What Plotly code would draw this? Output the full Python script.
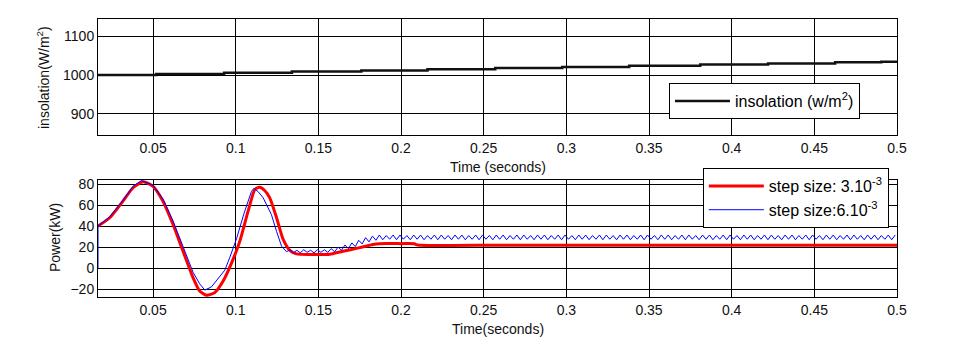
import numpy as np
import plotly.graph_objects as go

# ---- Insolation profile (staircase) ----
insol_t = [0.0167, 0.052, 0.093, 0.134, 0.176, 0.216, 0.257, 0.2975,
           0.338, 0.381, 0.422, 0.4626, 0.4905, 0.5]
insol_v = [1000, 1003, 1006, 1009, 1012, 1015, 1018, 1021,
           1024, 1027, 1030, 1033, 1034, 1034]

# ---- PV power, step size 3e-3 ----
red_t = [0.0167, 0.0238, 0.0318, 0.0379, 0.0440, 0.0500, 0.0560, 0.0621,
         0.0681, 0.0742, 0.0782, 0.0823, 0.0873, 0.0924, 0.0984, 0.1025,
         0.1075, 0.1116, 0.1145, 0.1175, 0.1206, 0.1247, 0.1287, 0.1327,
         0.1368, 0.1450, 0.1569, 0.1650, 0.1750, 0.1830, 0.1870, 0.2000,
         0.2080, 0.2100, 0.2600, 0.3500, 0.5000]
red_p = [40, 48, 63.8, 76.6, 82.3, 78, 63.8, 41.6,
         16.2, -9.2, -21.9, -26, -23.4, -12.4, 8.3, 25.7,
         54.3, 75, 77, 74, 67, 48, 27.3, 16.9,
         13.5, 13, 13.2, 16, 19.5, 22.5, 23.3, 23.3,
         23.2, 22, 21.8, 21.8, 21.8]

# ---- PV power, step size 6e-3 (transient part) ----
blue_t0 = [0.0167, 0.0167, 0.0238, 0.0318, 0.0379, 0.0430, 0.0500, 0.0560,
           0.0621, 0.0681, 0.0742, 0.0782, 0.0813, 0.0853, 0.0894, 0.0934,
           0.0964, 0.1005, 0.1050, 0.1095, 0.1110, 0.1135, 0.1166, 0.1216,
           0.1247, 0.1277, 0.1307]
blue_p0 = [0, 40, 49, 64.5, 78, 83.5, 79, 66,
           45, 20, -4, -15, -21, -18, -10, -2,
           10, 28, 52, 73, 76, 73, 67, 51,
           35, 21, 15.6]

# ---- PV power, step size 6e-3 (ripple, sampled every half period) ----
ripple_start = 0.1328
ripple_half_period = 0.00208
# settling: 0.133 s -> 0.185 s
ripple_settle = [
    17.5, 14.5, 17.0, 14.5, 17.5, 15.0, 17.0, 14.5, 17.5, 15.0, 17.5, 15.0,
    18.5, 15.5, 20.0, 17.0, 22.0, 18.5, 24.0, 20.5, 26.5, 23.0, 29.0, 25.0,
    30.5, 26.5,
]
# steady state: 0.187 s -> 0.5 s (151 samples)
ripple_steady = [
    31.5, 27.0, 31.0, 27.5, 31.5, 27.0, 31.5, 27.5, 31.0, 27.0, 31.5, 27.5,  # 12
    31.5, 27.0, 31.0, 27.5, 31.5, 27.0, 31.5, 27.5, 31.0, 27.0, 31.5, 27.5,  # 24
    31.5, 27.0, 31.0, 27.5, 31.5, 27.0, 31.5, 27.5, 31.0, 27.0, 31.5, 27.5,  # 36
    31.5, 27.0, 31.0, 27.5, 31.5, 27.0, 31.5, 27.5, 31.0, 27.0, 31.5, 27.5,  # 48
    31.5, 27.0, 31.0, 27.5, 31.5, 27.0, 31.5, 27.5, 31.0, 27.0, 31.5, 27.5,  # 60
    31.5, 27.0, 31.0, 27.5, 31.5, 27.0, 31.5, 27.5, 31.0, 27.0, 31.5, 27.5,  # 72
    31.5, 27.0, 31.0, 27.5, 31.5, 27.0, 31.5, 27.5, 31.0, 27.0, 31.5, 27.5,  # 84
    31.5, 27.0, 31.0, 27.5, 31.5, 27.0, 31.5, 27.5, 31.0, 27.0, 31.5, 27.5,  # 96
    31.5, 27.0, 31.0, 27.5, 31.5, 27.0, 31.5, 27.5, 31.0, 27.0, 31.5, 27.5,  # 108
    31.5, 27.0, 31.0, 27.5, 31.5, 27.0, 31.5, 27.5, 31.0, 27.0, 31.5, 27.5,  # 120
    31.5, 27.0, 31.0, 27.5, 31.5, 27.0, 31.5, 27.5, 31.0, 27.0, 31.5, 27.5,  # 132
    31.5, 27.0, 31.0, 27.5, 31.5, 27.0, 31.5, 27.5, 31.0, 27.0, 31.5, 27.5,  # 144
    31.5, 27.0, 31.0, 27.5, 31.5, 27.0, 31.5,                                # 151
]
blue_ripple = ripple_settle + ripple_steady
ripple_t = list(np.round(ripple_start + ripple_half_period * np.arange(len(blue_ripple)), 5))

x_ticks = [0.05, 0.1, 0.15, 0.2, 0.25, 0.3, 0.35, 0.4, 0.45, 0.5]
x_ticklabels = ["0.05", "0.1", "0.15", "0.2", "0.25", "0.3", "0.35", "0.4", "0.45", "0.5"]
top_yticks = [900, 1000, 1100]
bot_yticks = [-20, 0, 20, 40, 60, 80]

FONT = "Liberation Sans, Arial, sans-serif"

fig = go.Figure()

fig.add_trace(go.Scatter(
    x=insol_t, y=insol_v, mode="lines", line=dict(color="#111111", width=2.5, shape="hv"),
    name="insolation (w/m<sup>2</sup>)", xaxis="x", yaxis="y", legend="legend"))

fig.add_trace(go.Scatter(
    x=red_t, y=red_p, mode="lines",
    line=dict(color="#ff0000", width=3, shape="spline", smoothing=0.6),
    name="step size: 3.10<sup>-3</sup>", xaxis="x2", yaxis="y2", legend="legend2"))

fig.add_trace(go.Scatter(
    x=blue_t0 + ripple_t, y=blue_p0 + blue_ripple, mode="lines",
    line=dict(color="#0000ff", width=1),
    name="step size:6.10<sup>-3</sup>", xaxis="x2", yaxis="y2", legend="legend2"))

axis_common = dict(showline=True, linecolor="black", linewidth=1, mirror=True,
                   showgrid=True, gridcolor="black", gridwidth=1, zeroline=False,
                   ticks="", tickfont=dict(family=FONT, size=14, color="#111111"))

fig.update_layout(
    width=964, height=344,
    margin=dict(l=98, r=67, t=19, b=47),
    paper_bgcolor="white", plot_bgcolor="white",
    showlegend=True,
    xaxis=dict(domain=[0, 1], anchor="y", range=[0.0167, 0.5],
               tickvals=x_ticks, ticktext=x_ticklabels, **axis_common),
    yaxis=dict(domain=[0.5827, 1], anchor="x", range=[846, 1144],
               tickvals=top_yticks, **axis_common),
    xaxis2=dict(domain=[0, 1], anchor="y2", range=[0.0167, 0.5],
                tickvals=x_ticks, ticktext=x_ticklabels, **axis_common),
    yaxis2=dict(domain=[0, 0.4209], anchor="x2", range=[-27.6, 84],
                tickvals=bot_yticks, **axis_common),
    legend=dict(x=0.7146, y=0.7698, xanchor="left", yanchor="top",
                bgcolor="white", bordercolor="black", borderwidth=1,
                font=dict(family=FONT, size=16, color="black"), itemwidth=55),
    legend2=dict(x=0.757, y=0.464, xanchor="left", yanchor="top",
                 bgcolor="white", bordercolor="black", borderwidth=1,
                 font=dict(family=FONT, size=16, color="black"), itemwidth=55),
    annotations=[
        dict(text="Time (seconds)", xref="paper", yref="paper", x=0.5, y=(297 - 167) / 278,
             showarrow=False, xanchor="center", yanchor="middle",
             font=dict(family=FONT, size=14, color="#111111")),
        dict(text="Time(seconds)", xref="paper", yref="paper", x=0.5, y=(297 - 329) / 278,
             showarrow=False, xanchor="center", yanchor="middle",
             font=dict(family=FONT, size=14, color="#111111")),
        dict(text="insolation(W/m<sup>2</sup>)", xref="paper", yref="paper",
             x=(43 - 98) / 799, y=(297 - 77) / 278, textangle=-90,
             showarrow=False, xanchor="center", yanchor="middle",
             font=dict(family=FONT, size=14, color="#111111")),
        dict(text="Power(kW)", xref="paper", yref="paper",
             x=(55 - 98) / 799, y=(297 - 238) / 278, textangle=-90,
             showarrow=False, xanchor="center", yanchor="middle",
             font=dict(family=FONT, size=14, color="#111111")),
    ],
)

fig.write_html("out.html")
